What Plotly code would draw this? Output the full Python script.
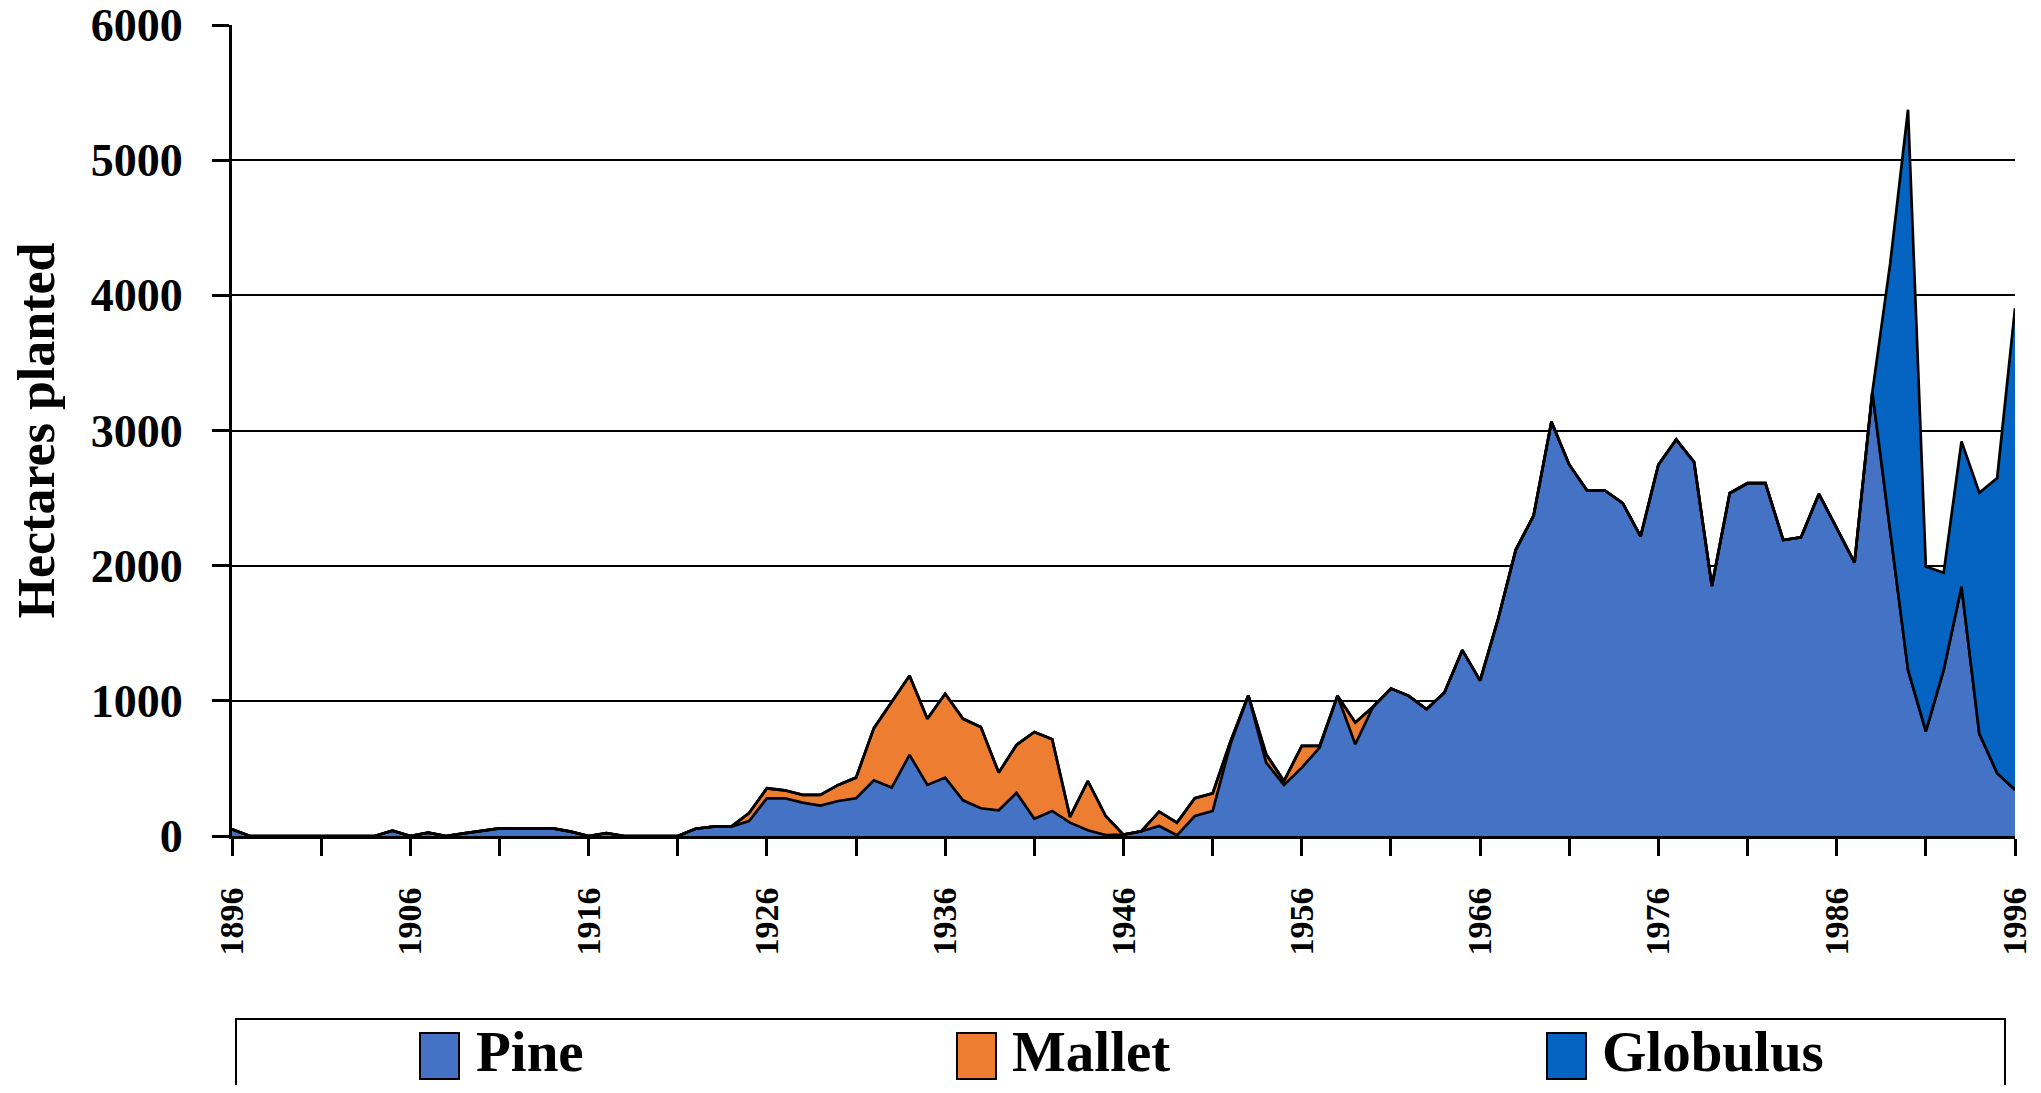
import plotly.graph_objects as go

years = list(range(1896, 1997))

pine = [
    50, 0, 0, 0, 0, 0, 0, 0, 0, 40,            # 1896-1905
    0, 25, 0, 20, 37, 57, 57, 57, 57, 32,       # 1906-1915
    0, 22, 0, 0, 0, 0, 54, 70, 70, 110,         # 1916-1925
    279, 279, 247, 225, 259, 279, 412, 358, 600, 378,   # 1926-1935
    432, 264, 205, 190, 319, 128, 185, 99, 42, 7,       # 1936-1945
    10, 35, 74, 5, 148, 185, 680, 1040, 543, 378,       # 1946-1955
    506, 654, 1037, 679, 956, 1091, 1037, 938, 1062, 1375,   # 1956-1965
    1150, 1600, 2117, 2370, 3064, 2747, 2556, 2556, 2462, 2216,  # 1966-1975
    2747, 2933, 2767, 1849, 2536, 2610, 2610, 2190, 2210, 2531,  # 1976-1985
    2280, 2022, 3284, 2262, 1229, 775, 1229, 1845, 756, 465,     # 1986-1995
    343,                                                          # 1996
]

mallet = (
    [0] * 29 +                                   # 1896-1924
    [60, 74, 59, 57, 79, 119, 153, 386, 637, 585,   # 1925-1934
     489, 620, 603, 602, 279, 355, 642, 531, 42, 365,  # 1935-1944
     141, 0, 0, 106, 94, 131, 130, 20, 0, 62,        # 1945-1954
     29, 161, 13, 0, 161] +                          # 1955-1959
    [0] * 37                                          # 1960-1996
)

globulus = [0] * 93 + [1974, 4144, 1218, 719, 1074, 1783, 2184, 3561]  # 1989-1996

series_names = ["Pine", "Mallet", "Globulus"]
series_colors = ["#4472C4", "#ED7D31", "#0563C1"]
y_ticks = [0, 1000, 2000, 3000, 4000, 5000, 6000]

FONT = "Liberation Serif"
OFF = 8                       # page body margin
W, H = 2041 - 2 * OFF, 1093 - 2 * OFF
# plot area in screen pixels: x 232..2015, y 25..836
L = 232 - OFF
T = 25 - OFF
R = W - (2015 - OFF)
B = H - (836 - OFF)

fig = go.Figure()
for name, vals, col in zip(series_names, [pine, mallet, globulus], series_colors):
    fig.add_trace(go.Scatter(
        x=years, y=vals, name=name, mode="lines",
        stackgroup="one", fillcolor=col,
        line=dict(color="black", width=2.7),
        showlegend=False,
    ))

# manual legend (screen pixel layout converted to paper coords)
pw, ph = W - L - R, H - T - B
def px(xs):
    return (xs - OFF - L) / pw
def py(ys):
    return (H - B - (ys - OFF)) / ph

shapes = [dict(type="rect", xref="paper", yref="paper",
               x0=px(236), x1=px(2005), y0=py(1019), y1=py(1120),
               line=dict(color="black", width=2), fillcolor="white", layer="above")]
annotations = []
sw_x = [420, 957, 1547]
tx_x = [474, 1010, 1600]
for name, col, sx, tx in zip(series_names, series_colors, sw_x, tx_x):
    shapes.append(dict(type="rect", xref="paper", yref="paper",
                       x0=px(sx), x1=px(sx + 39), y0=py(1079), y1=py(1033),
                       line=dict(color="black", width=2), fillcolor=col, layer="above"))
    annotations.append(dict(xref="paper", yref="paper", x=px(tx), y=py(1051),
                            xanchor="left", yanchor="middle", showarrow=False,
                            text=name,
                            font=dict(family=FONT, size=57, color="black", weight="bold")))

fig.update_layout(
    width=W, height=H,
    margin=dict(l=L, r=R, t=T, b=B, pad=0, autoexpand=False),
    paper_bgcolor="white", plot_bgcolor="white",
    shapes=shapes, annotations=annotations,
    showlegend=False,
)
fig.update_xaxes(
    automargin=False, ticklabeloverflow="allow",
    range=[1896, 1996], tick0=1896, dtick=10,
    ticks="outside", ticklen=17, tickwidth=2.5, tickcolor="black",
    minor=dict(tick0=1896, dtick=5, ticks="outside", ticklen=17, tickwidth=2.5, tickcolor="black"),
    showline=True, linecolor="black", linewidth=3,
    showgrid=False, zeroline=False,
    tickangle=-90, ticklabelstandoff=18,
    tickfont=dict(family=FONT, size=34, color="black", weight="bold"),
)
fig.update_yaxes(
    automargin=False, ticklabeloverflow="allow",
    range=[0, 6000], tickvals=y_ticks,
    ticks="outside", ticklen=17, tickwidth=2.5, tickcolor="black",
    showline=True, linecolor="black", linewidth=3,
    showgrid=True, gridcolor="black", gridwidth=2, zeroline=False,
    ticklabelstandoff=20,
    tickfont=dict(family=FONT, size=46, color="black", weight="bold"),
    title=dict(text="Hectares planted", standoff=21,
               font=dict(family=FONT, size=52, color="black", weight="bold")),
)

fig.write_html("out.html")
